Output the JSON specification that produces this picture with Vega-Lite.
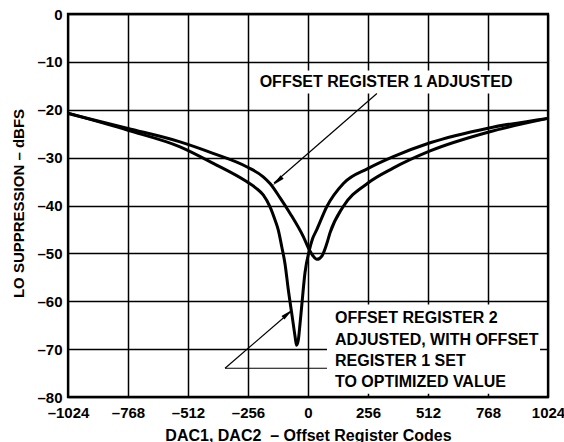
{
  "$schema": "https://vega.github.io/schema/vega-lite/v6.json",
  "width": 480,
  "height": 383,
  "autosize": "none",
  "padding": {"left": 68, "top": 14, "right": 16, "bottom": 45},
  "background": "white",
  "config": {
    "view": {"stroke": "black", "strokeWidth": 2.3},
    "font": "Liberation Sans",
    "axis": {
      "grid": true, "gridColor": "black", "gridWidth": 1.5, "gridOpacity": 1,
      "domain": false, "ticks": false, "tickSize": 0,
      "labelFont": "Liberation Sans", "labelFontWeight": "bold", "labelFontSize": 15, "labelColor": "black",
      "labelFlush": false, "labelOverlap": false,
      "titleFont": "Liberation Sans", "titleFontWeight": "bold", "titleFontSize": 15, "titleColor": "black"
    }
  },
  "datasets": {
    "curves": [
      {"series": "A", "code": -1024, "db": -20.8},
      {"series": "A", "code": -768, "db": -23.9},
      {"series": "A", "code": -546, "db": -26.7},
      {"series": "A", "code": -405, "db": -29.1},
      {"series": "A", "code": -262, "db": -31.9},
      {"series": "A", "code": -191, "db": -34.0},
      {"series": "A", "code": -162, "db": -35.4},
      {"series": "A", "code": -119, "db": -38.4},
      {"series": "A", "code": -77, "db": -41.6},
      {"series": "A", "code": -20, "db": -46.5},
      {"series": "A", "code": 6, "db": -49.3},
      {"series": "A", "code": 21, "db": -50.5},
      {"series": "A", "code": 38, "db": -51.25},
      {"series": "A", "code": 60, "db": -50.5},
      {"series": "A", "code": 80, "db": -48.0},
      {"series": "A", "code": 94, "db": -45.7},
      {"series": "A", "code": 149, "db": -40.3},
      {"series": "A", "code": 256, "db": -35.3},
      {"series": "A", "code": 363, "db": -32.2},
      {"series": "A", "code": 521, "db": -28.6},
      {"series": "A", "code": 768, "db": -24.7},
      {"series": "A", "code": 1024, "db": -21.8},
      {"series": "B", "code": -1024, "db": -20.7},
      {"series": "B", "code": -768, "db": -24.3},
      {"series": "B", "code": -546, "db": -27.75},
      {"series": "B", "code": -404, "db": -31.2},
      {"series": "B", "code": -262, "db": -35.0},
      {"series": "B", "code": -222, "db": -36.35},
      {"series": "B", "code": -191, "db": -37.8},
      {"series": "B", "code": -162, "db": -40.3},
      {"series": "B", "code": -141, "db": -43.0},
      {"series": "B", "code": -127, "db": -45.1},
      {"series": "B", "code": -112, "db": -48.6},
      {"series": "B", "code": -98, "db": -52.2},
      {"series": "B", "code": -84, "db": -57.6},
      {"series": "B", "code": -68, "db": -63.0},
      {"series": "B", "code": -55, "db": -67.4},
      {"series": "B", "code": -49, "db": -69.2},
      {"series": "B", "code": -41, "db": -68.0},
      {"series": "B", "code": -34, "db": -64.7},
      {"series": "B", "code": -27, "db": -61.1},
      {"series": "B", "code": -13, "db": -54.1},
      {"series": "B", "code": 6, "db": -49.3},
      {"series": "B", "code": 19, "db": -47.0},
      {"series": "B", "code": 37, "db": -45.1},
      {"series": "B", "code": 80, "db": -40.25},
      {"series": "B", "code": 151, "db": -35.4},
      {"series": "B", "code": 257, "db": -32.25},
      {"series": "B", "code": 364, "db": -29.8},
      {"series": "B", "code": 521, "db": -26.9},
      {"series": "B", "code": 768, "db": -23.85},
      {"series": "B", "code": 1024, "db": -21.8}
    ],
    "boxes": [
      {"x1": -226, "x2": 883, "y1": -11.8, "y2": -16.6},
      {"x1": 81, "x2": 990, "y1": -60.7, "y2": -79.3}
    ],
    "rules": [
      {"x1": 294, "y1": -16.6, "x2": -145, "y2": -35.3},
      {"x1": -354, "y1": -74.0, "x2": -72, "y2": -62.1},
      {"x1": -354, "y1": -74.0, "x2": 81, "y2": -74.0}
    ],
    "heads": [
      {"code": -130, "db": -34.9, "angle": 228.5},
      {"code": -87, "db": -62.6, "angle": 48.9}
    ],
    "toplabel": [
      {"code": 333, "db": -14.3, "text": "OFFSET REGISTER 1 ADJUSTED"}
    ],
    "bottomlabel": [
      {"code": 115, "db": -63.5, "text": "OFFSET REGISTER 2"},
      {"code": 115, "db": -68.0, "text": "ADJUSTED, WITH OFFSET"},
      {"code": 115, "db": -72.4, "text": "REGISTER 1 SET"},
      {"code": 115, "db": -76.8, "text": "TO OPTIMIZED VALUE"}
    ]
  },
  "layer": [
    {
      "data": {"name": "boxes"},
      "mark": {"type": "rect", "fill": "white", "stroke": null},
      "encoding": {
        "x": {"field": "x1", "type": "quantitative", "scale": {"domain": [-1024, 1024], "nice": false},
          "axis": {"values": [-1024, -768, -512, -256, 0, 256, 512, 768, 1024], "labelPadding": 8,
            "labelExpr": "datum.value < 0 ? '–' + abs(datum.value) : '' + datum.value",
            "title": "DAC1, DAC2\u00a0\u00a0– Offset Register Codes", "titleFontSize": 16, "titleY": 38, "titleBaseline": "middle"}},
        "x2": {"field": "x2"},
        "y": {"field": "y1", "type": "quantitative", "scale": {"domain": [-80, 0], "nice": false},
          "axis": {"values": [-80, -70, -60, -50, -40, -30, -20, -10, 0], "labelPadding": 6,
            "labelExpr": "datum.value < 0 ? '–' + abs(datum.value) : '' + datum.value",
            "title": "LO SUPPRESSION – dBFS", "titleX": -50, "titleY": 189, "titleBaseline": "middle"}},
        "y2": {"field": "y2"}
      }
    },
    {
      "data": {"name": "curves"},
      "mark": {"type": "line", "color": "black", "strokeWidth": 3, "interpolate": "monotone"},
      "encoding": {
        "x": {"field": "code", "type": "quantitative"},
        "y": {"field": "db", "type": "quantitative"},
        "detail": {"field": "series"}
      }
    },
    {
      "data": {"name": "rules"},
      "mark": {"type": "rule", "color": "black", "strokeWidth": 1.2},
      "encoding": {
        "x": {"field": "x1", "type": "quantitative"},
        "y": {"field": "y1", "type": "quantitative"},
        "x2": {"field": "x2"},
        "y2": {"field": "y2"}
      }
    },
    {
      "data": {"name": "heads"},
      "mark": {"type": "point", "shape": "M0,-1L0.38,1L-0.38,1Z", "filled": true, "color": "black", "opacity": 1, "size": 150},
      "encoding": {
        "x": {"field": "code", "type": "quantitative"},
        "y": {"field": "db", "type": "quantitative"},
        "angle": {"field": "angle", "type": "quantitative", "scale": null}
      }
    },
    {
      "data": {"name": "toplabel"},
      "mark": {"type": "text", "font": "Liberation Sans", "fontWeight": "bold", "fontSize": 16, "color": "black", "baseline": "middle", "align": "center"},
      "encoding": {
        "x": {"field": "code", "type": "quantitative"},
        "y": {"field": "db", "type": "quantitative"},
        "text": {"field": "text"}
      }
    },
    {
      "data": {"name": "bottomlabel"},
      "mark": {"type": "text", "font": "Liberation Sans", "fontWeight": "bold", "fontSize": 16, "color": "black", "baseline": "middle", "align": "left"},
      "encoding": {
        "x": {"field": "code", "type": "quantitative"},
        "y": {"field": "db", "type": "quantitative"},
        "text": {"field": "text"}
      }
    }
  ]
}
